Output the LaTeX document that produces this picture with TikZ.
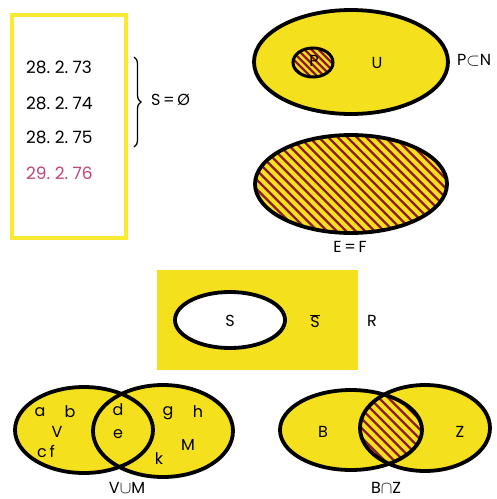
\documentclass[tikz,border=0pt]{standalone}
\usepackage{fontspec}
\setmainfont{Poppins}
\usetikzlibrary{decorations.pathreplacing}
\definecolor{setyellow}{HTML}{F5E01E}
\definecolor{frameyellow}{HTML}{FAE931}
\definecolor{hatchred}{HTML}{8C1C2A}
\definecolor{datepink}{HTML}{C0437A}
\tikzset{
  setfill/.style ={fill=setyellow},
  setline/.style ={draw=black, line width=3.8pt},
  hatchline/.style={draw=hatchred, line width=2.2pt},
  lbl/.style     ={font=\fontsize{16}{18}\selectfont, inner sep=0pt},
  datelbl/.style ={font=\fontsize{17}{19}\selectfont, inner sep=0pt, anchor=west},
}
\begin{document}
\begin{tikzpicture}[x=1pt, y=-1pt]
  \useasboundingbox (0,0) rectangle (497,499);

  % dates and the empty set
  \draw[draw=frameyellow, line width=4pt] (12,15) rectangle (126,238);
  \node[datelbl] (d73) at (26,67)  {28.\ 2.\ 73};
  \node[datelbl] (d74) at (26,103) {28.\ 2.\ 74};
  \node[datelbl] (d75) at (26,137) {28.\ 2.\ 75};
  \node[datelbl, text=datepink] (d76) at (26,173) {29.\ 2.\ 76};
  \coordinate (btop) at (134,57);
  \coordinate (bbot) at (134,147);
  \draw[decorate, decoration={brace, amplitude=7pt}, line width=1.3pt] (btop) -- (bbot);
  \node[lbl, anchor=west] (empty) at (151,100) {S\,=\,Ø};

  % P subset of N
  \path[setfill, setline] (351,62) ellipse [x radius=97, y radius=52];
  \begin{scope}
    \clip (313,62.5) ellipse [x radius=20, y radius=14.5];
    \foreach \t in {260,267,...,340}
      \draw[hatchline] (\t,40) -- ++(45,45);
  \end{scope}
  \draw[line width=3pt] (313,62.5) ellipse [x radius=20, y radius=14.5];
  \node[lbl] (p) at (314,61) {P};
  \node[lbl] (u) at (377,63) {U};
  \node[lbl, anchor=west] (pn) at (457,60) {P$\subset$N};

  % E = F
  \begin{scope}
    \clip (351,184) ellipse [x radius=96, y radius=49];
    \fill[setyellow] (250,130) rectangle (450,240);
    \foreach \t in {150,159.5,...,450}
      \draw[hatchline] (\t,130) -- ++(110,110);
  \end{scope}
  \draw[setline] (351,184) ellipse [x radius=96, y radius=49];
  \node[lbl] (ef) at (350,247) {E\,=\,F};

  % complement
  \fill[setyellow] (157,270) rectangle (358,370);
  \path[fill=white, setline] (230,320) ellipse [x radius=55, y radius=28];
  \node[lbl] (s) at (230,321) {S};
  \node[lbl] (sbar) at (315,321) {$\overline{\hbox{S}}$};
  \node[lbl] (r) at (372,321) {R};

  % union
  \fill[setyellow] (84,430) ellipse [x radius=69, y radius=43];
  \fill[setyellow] (163,431) ellipse [x radius=70, y radius=46];
  \draw[setline] (84,430) ellipse [x radius=69, y radius=43];
  \draw[setline] (163,431) ellipse [x radius=70, y radius=46];
  \node[lbl] (a) at (40,412) {a};
  \node[lbl] (b) at (70,412) {b};
  \node[lbl] (v) at (57,432) {V};
  \node[lbl] (cf) at (46,451) {c\,f};
  \node[lbl] (d) at (118,410) {d};
  \node[lbl] (e) at (118,434) {e};
  \node[lbl] (g) at (168,413) {g};
  \node[lbl] (h) at (198,412) {h};
  \node[lbl] (m) at (188,445) {M};
  \node[lbl] (k) at (159,459) {k};
  \node[lbl] (vum) at (127,488) {V$\cup$M};

  % intersection
  \fill[setyellow] (351,430) ellipse [x radius=71, y radius=40];
  \fill[setyellow] (425,428) ellipse [x radius=65, y radius=43];
  \begin{scope}
    \clip (351,430) ellipse [x radius=71, y radius=40];
    \clip (425,428) ellipse [x radius=65, y radius=43];
    \foreach \t in {290,299.5,...,440}
      \draw[hatchline] (\t,385) -- ++(90,90);
  \end{scope}
  \draw[setline] (351,430) ellipse [x radius=71, y radius=40];
  \draw[setline] (425,428) ellipse [x radius=65, y radius=43];
  \node[lbl] (bb) at (323,432) {B};
  \node[lbl] (z) at (460,432) {Z};
  \node[lbl] (bnz) at (386,488) {B$\cap$Z};
\end{tikzpicture}
\end{document}
